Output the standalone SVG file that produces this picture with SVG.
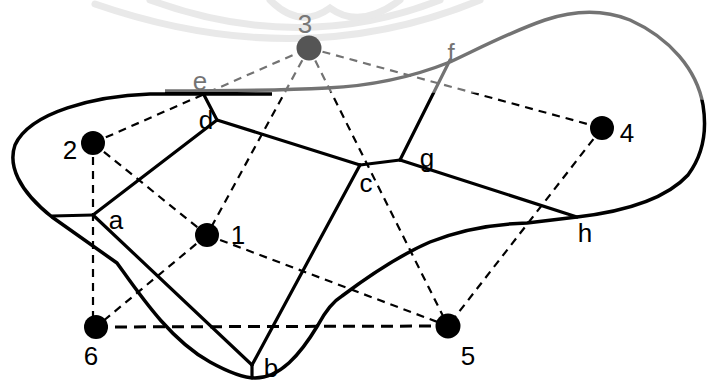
<svg xmlns="http://www.w3.org/2000/svg" width="707" height="383" viewBox="0 0 707 383">
  <style>
    .wm { fill: none; stroke: #d7d7d7; stroke-width: 7; stroke-linecap: round; }
    .bnd { fill: none; stroke: #000; stroke-width: 3.5; stroke-linejoin: round; }
    .edge { stroke: #000; stroke-width: 3.2; stroke-linecap: round; fill: none; }
    .dash { stroke: #000; stroke-width: 2.2; stroke-dasharray: 8 6; fill: none; }
    .dash-bold { stroke: #000; stroke-width: 3; stroke-dasharray: 12 7; fill: none; }
    .dot { fill: #000; }
    .lbl { font-family: "Liberation Sans", Arial, sans-serif; font-size: 26px; fill: #000; text-anchor: middle; }
  </style>
  <rect width="707" height="383" fill="#fff"/>
  <g id="watermark">
    <path class="wm" d="M 95 4 Q 300 75 480 0"/>
    <path class="wm" d="M 150 0 Q 300 55 440 0"/>
    <path class="wm" d="M 270 0 Q 300 30 330 8 Q 360 30 400 0"/>
  </g>
  <g id="boundary">
    <path class="bnd" d="M 272 94 L 150 94 C 95 96, 30 112, 15 145 C 8 165, 18 190, 52 217 L 117 263 C 140 295, 170 340, 210 362 C 230 373, 245 378, 255 378 C 280 378, 300 355, 318 325 C 325 312, 332 302, 342 296 C 370 275, 400 255, 430 242 C 460 230, 490 224, 527 223 L 577 217 C 620 212, 665 200, 688 175 C 703 155, 707 130, 703 105 C 697 70, 670 38, 630 20 C 605 10, 575 10, 545 20 C 510 32, 480 48, 450 62 C 410 78, 370 86, 327 88 C 270 91, 210 91, 165 91"/>
  </g>
  <g id="connectors">
    <g id="voronoi-edges">
      <line class="edge" x1="52" y1="216" x2="93" y2="215"/>
      <line class="edge" x1="93" y1="215" x2="217" y2="120"/>
      <line class="edge" x1="93" y1="215" x2="252" y2="365"/>
      <line class="edge" x1="252" y1="365" x2="252" y2="378"/>
      <line class="edge" x1="252" y1="365" x2="360" y2="165"/>
      <line class="edge" x1="217" y1="120" x2="203" y2="93"/>
      <line class="edge" x1="217" y1="120" x2="360" y2="165"/>
      <line class="edge" x1="360" y1="165" x2="400" y2="160"/>
      <line class="edge" x1="400" y1="160" x2="450" y2="60"/>
      <line class="edge" x1="400" y1="160" x2="577" y2="217"/>
    </g>
    <g id="delaunay-edges">
      <line class="dash" x1="93" y1="143" x2="309" y2="48"/>
      <line class="dash" x1="93" y1="143" x2="93" y2="327"/>
      <line class="dash" x1="93" y1="143" x2="207" y2="235"/>
      <line class="dash" x1="309" y1="48" x2="207" y2="235"/>
      <line class="dash" x1="309" y1="48" x2="448" y2="326"/>
      <line class="dash" x1="309" y1="48" x2="602" y2="128"/>
      <line class="dash" x1="602" y1="128" x2="448" y2="326"/>
      <line class="dash" x1="207" y1="235" x2="96" y2="327"/>
      <line class="dash" x1="207" y1="235" x2="448" y2="326"/>
      <line class="dash-bold" x1="96" y1="327" x2="448" y2="326"/>
    </g>
  </g>
  <g id="node-1"><circle class="dot" cx="207" cy="235" r="12"/><text class="lbl" x="238" y="244">1</text></g>
  <g id="node-2"><circle class="dot" cx="93" cy="143" r="12"/><text class="lbl" x="70" y="159">2</text></g>
  <g id="node-4"><circle class="dot" cx="602" cy="128" r="12"/><text class="lbl" x="627" y="142">4</text></g>
  <g id="node-5"><circle class="dot" cx="448" cy="326" r="12.5"/><text class="lbl" x="468" y="365">5</text></g>
  <g id="node-6"><circle class="dot" cx="96" cy="327" r="12"/><text class="lbl" x="91" y="365">6</text></g>
  <g id="vertex-a"><text class="lbl" x="116" y="229">a</text></g>
  <g id="vertex-b"><text class="lbl" x="271" y="377">b</text></g>
  <g id="vertex-c"><text class="lbl" x="366" y="192">c</text></g>
  <g id="vertex-d"><text class="lbl" x="206" y="129">d</text></g>
  <g id="vertex-e"><text class="lbl" x="200" y="90">e</text></g>
  <g id="vertex-f"><text class="lbl" x="451" y="62">f</text></g>
  <g id="vertex-g"><text class="lbl" x="427" y="167">g</text></g>
  <g id="vertex-h"><text class="lbl" x="585" y="242">h</text></g>
  <polygon id="fade" points="0,0 707,0 707,100 600,95 470,93 300,92 160,92 0,92" fill="#fff" fill-opacity="0.45"/>
  <g id="node-3"><circle cx="309" cy="48" r="12.5" fill="#555"/><text class="lbl" x="305" y="33" fill="#777" style="fill:#777">3</text></g>
</svg>
